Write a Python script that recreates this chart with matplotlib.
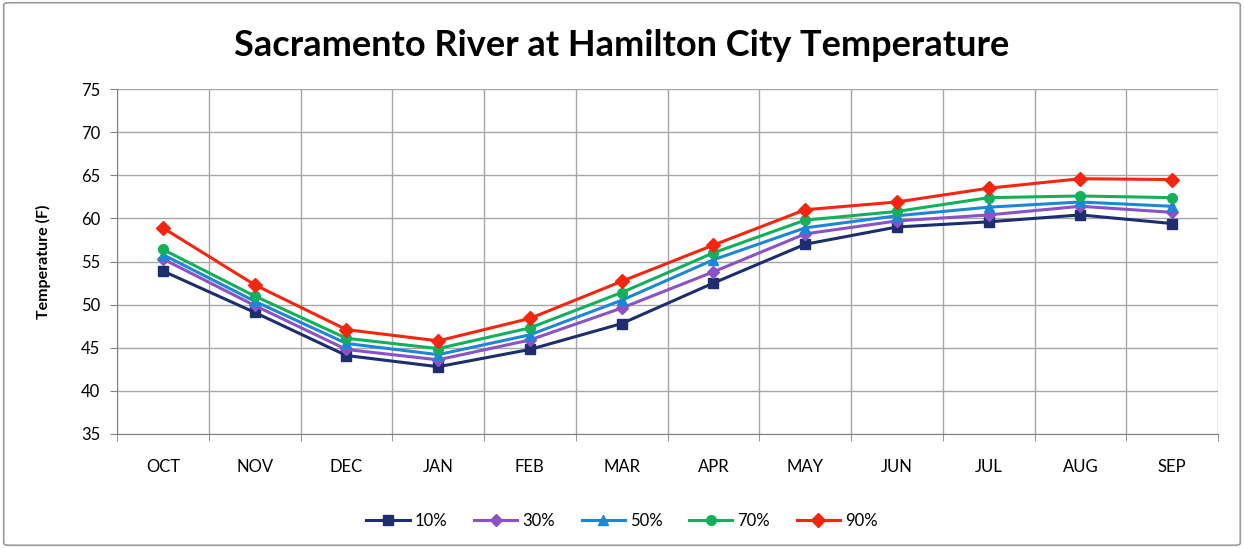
import matplotlib
matplotlib.use("Agg")
import matplotlib.pyplot as plt
from matplotlib.patches import FancyBboxPatch

months = ["OCT", "NOV", "DEC", "JAN", "FEB", "MAR", "APR", "MAY", "JUN", "JUL", "AUG", "SEP"]
series_names = ["10%", "30%", "50%", "70%", "90%"]

t10 = [53.9, 49.1, 44.1, 42.8, 44.8, 47.8, 52.5, 57.0, 59.0, 59.6, 60.4, 59.4]
t30 = [55.3, 49.9, 44.8, 43.6, 45.9, 49.6, 53.8, 58.2, 59.7, 60.4, 61.4, 60.7]
t50 = [55.8, 50.4, 45.5, 44.2, 46.5, 50.5, 55.2, 58.9, 60.3, 61.3, 61.9, 61.4]
t70 = [56.4, 51.0, 46.1, 44.9, 47.3, 51.4, 56.0, 59.8, 60.8, 62.4, 62.6, 62.4]
t90 = [58.9, 52.3, 47.1, 45.8, 48.4, 52.7, 56.9, 61.0, 61.9, 63.5, 64.6, 64.5]

yticks = [35, 40, 45, 50, 55, 60, 65, 70, 75]

colors = ["#1c2e6e", "#8a52c4", "#1f86d6", "#12b05a", "#f5260f"]
markers = ["s", "D", "^", "o", "D"]
msizes = [7, 6, 7, 7, 7.5]

plt.rcParams["font.family"] = ["Lato", "DejaVu Sans"]

fig = plt.figure(figsize=(12.44, 5.48), dpi=100)
ax = fig.add_axes([117 / 1244, 1 - 434 / 548, (1218 - 117) / 1244, (434 - 89) / 548])

# chart frame
fig.patches.append(FancyBboxPatch((0.003, 0.005), 0.994, 0.99, boxstyle="round,pad=0,rounding_size=0.004",
                                  transform=fig.transFigure, fill=False, edgecolor="#9a9a9a", linewidth=1.2))

x = list(range(len(months)))
for vals, name, c, m, ms in zip([t10, t30, t50, t70, t90], series_names, colors, markers, msizes):
    ax.plot(x, vals, color=c, marker=m, markersize=ms, linewidth=2.2, label=name, zorder=3)

ax.set_xlim(-0.5, len(months) - 0.5)
ax.set_ylim(35, 75)
ax.set_yticks(yticks)
ax.set_yticklabels([str(v) for v in yticks], fontsize=12)
ax.set_xticks(x)
ax.set_xticklabels(months, fontsize=12)
ax.tick_params(axis="x", length=0, pad=18)
ax.tick_params(axis="y", length=5, color="#808080", pad=7)

# category gridlines between months
ax.set_xticks([i + 0.5 for i in range(-1, len(months))], minor=True)
ax.tick_params(axis="x", which="minor", length=5, color="#808080")
ax.grid(True, which="minor", axis="x", color="#a6a6a6", linewidth=1)
ax.grid(True, which="major", axis="y", color="#a6a6a6", linewidth=1)
ax.set_axisbelow(True)

for s in ["top", "right"]:
    ax.spines[s].set_visible(False)
ax.spines["left"].set_color("#808080")
ax.spines["bottom"].set_color("#808080")

ax.set_ylabel("Temperature (F)", fontsize=11.5, fontweight="bold", labelpad=22)
fig.text(0.5, 0.917, "Sacramento River at Hamilton City Temperature", ha="center", va="center",
         fontsize=26, fontweight="bold")

fig.legend(loc="center", bbox_to_anchor=(0.5, 0.05), ncol=5, frameon=False, fontsize=12,
           handlelength=2.6, columnspacing=1.6, handletextpad=0.3)

fig.savefig("out.png", dpi=100)
